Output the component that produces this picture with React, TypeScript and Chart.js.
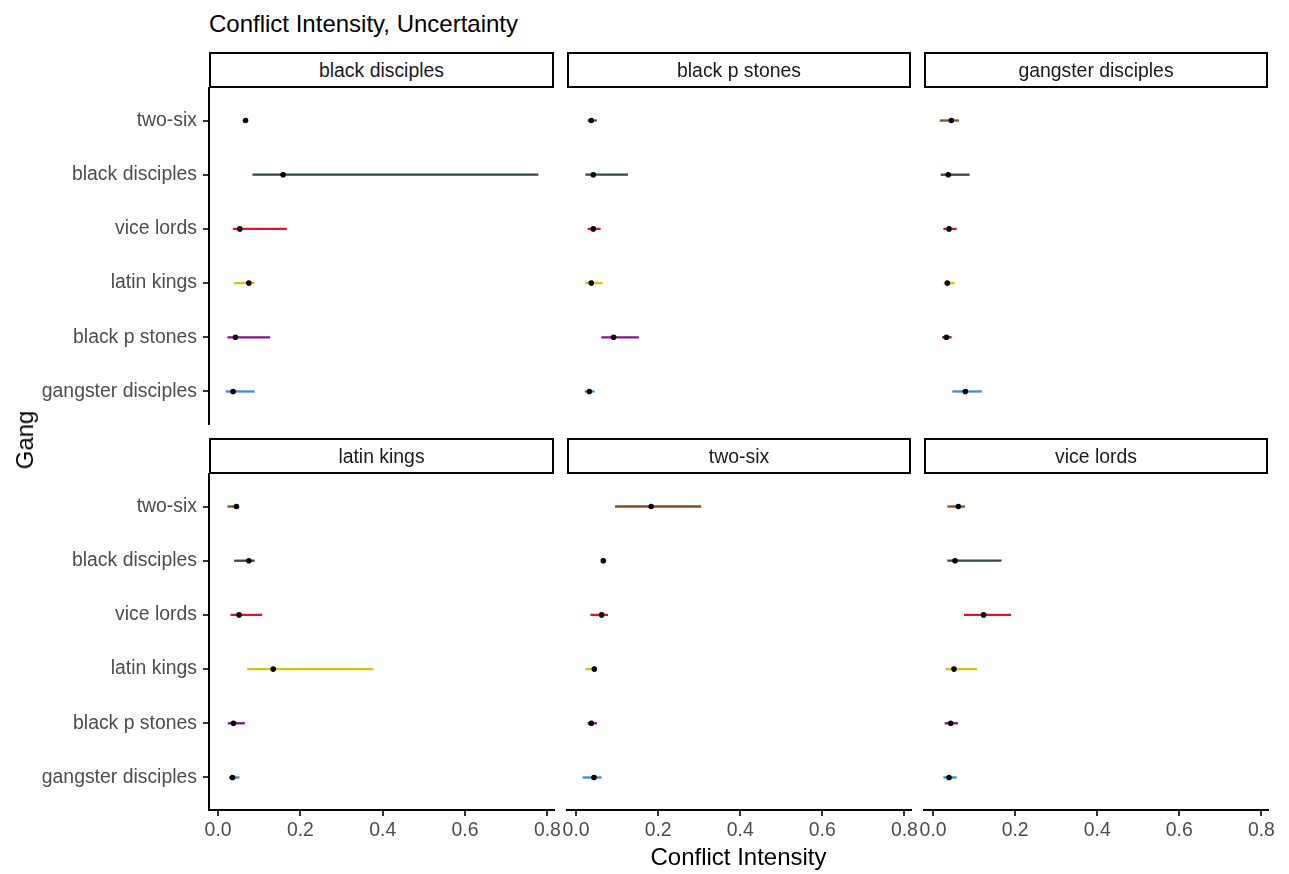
import React, { useEffect, useRef } from 'react';
import { Chart, registerables } from 'chart.js';

Chart.register(...registerables);

// Gang categories, bottom (y=1) to top (y=6)
const GANGS = ['gangster disciples', 'black p stones', 'latin kings', 'vice lords', 'black disciples', 'two-six'];
const GANG_COLORS = ['#3D8BD8', '#86138A', '#CEC712', '#E2112C', '#2F4A46', '#8B4E1A'];
const FACETS = ['black disciples', 'black p stones', 'gangster disciples', 'latin kings', 'two-six', 'vice lords'];
const X_TICKS = [0, 0.2, 0.4, 0.6, 0.8];

// Values per facet, ordered like GANGS
const EST_BLACK_DISCIPLES = [0.0365, 0.0423, 0.0747, 0.0528, 0.158, 0.0666];
const LOW_BLACK_DISCIPLES = [0.0187, 0.0228, 0.039, 0.0357, 0.0836, 0.063];
const HIGH_BLACK_DISCIPLES = [0.0885, 0.1265, 0.0885, 0.167, 0.778, 0.07];

const EST_BLACK_P_STONES = [0.0324, 0.0915, 0.0372, 0.042, 0.042, 0.0372];
const LOW_BLACK_P_STONES = [0.021, 0.0615, 0.0226, 0.0283, 0.0226, 0.0283];
const HIGH_BLACK_P_STONES = [0.045, 0.153, 0.0648, 0.06, 0.1264, 0.051];

const EST_GANGSTER_DISCIPLES = [0.0786, 0.0324, 0.0348, 0.0389, 0.0372, 0.0445];
const LOW_GANGSTER_DISCIPLES = [0.047, 0.0219, 0.0259, 0.0251, 0.0186, 0.0162];
const HIGH_GANGSTER_DISCIPLES = [0.119, 0.0452, 0.0526, 0.0575, 0.0891, 0.0632];

const EST_LATIN_KINGS = [0.035, 0.0374, 0.134, 0.051, 0.0747, 0.0446];
const LOW_LATIN_KINGS = [0.026, 0.0236, 0.0706, 0.03, 0.039, 0.0228];
const HIGH_LATIN_KINGS = [0.052, 0.065, 0.378, 0.107, 0.089, 0.0446];

const EST_TWO_SIX = [0.0437, 0.0372, 0.0445, 0.0623, 0.0664, 0.183];
const LOW_TWO_SIX = [0.016, 0.0283, 0.0226, 0.0348, 0.063, 0.0948];
const HIGH_TWO_SIX = [0.0623, 0.051, 0.0445, 0.0778, 0.07, 0.3047];

const EST_VICE_LORDS = [0.0389, 0.0429, 0.051, 0.1232, 0.0535, 0.0616];
const LOW_VICE_LORDS = [0.0251, 0.0282, 0.0299, 0.0754, 0.0348, 0.0348];
const HIGH_VICE_LORDS = [0.0575, 0.0608, 0.107, 0.19, 0.1669, 0.0778];

const FACET_SERIES = [
  { est: EST_BLACK_DISCIPLES, low: LOW_BLACK_DISCIPLES, high: HIGH_BLACK_DISCIPLES },
  { est: EST_BLACK_P_STONES, low: LOW_BLACK_P_STONES, high: HIGH_BLACK_P_STONES },
  { est: EST_GANGSTER_DISCIPLES, low: LOW_GANGSTER_DISCIPLES, high: HIGH_GANGSTER_DISCIPLES },
  { est: EST_LATIN_KINGS, low: LOW_LATIN_KINGS, high: HIGH_LATIN_KINGS },
  { est: EST_TWO_SIX, low: LOW_TWO_SIX, high: HIGH_TWO_SIX },
  { est: EST_VICE_LORDS, low: LOW_VICE_LORDS, high: HIGH_VICE_LORDS },
];

// shared x range with ggplot-like 5% expansion
const ALL_LOW = Math.min(...FACET_SERIES.map((s) => Math.min(...s.low)));
const ALL_HIGH = Math.max(...FACET_SERIES.map((s) => Math.max(...s.high)));
const X_SPAN = ALL_HIGH - ALL_LOW;
const X_MIN = ALL_LOW - 0.05 * X_SPAN;
const X_MAX = ALL_HIGH + 0.05 * X_SPAN;

const FONT = '"Liberation Sans", Arial, Helvetica, sans-serif';

// layout
const PAD = 24;
const Y_AXIS_W = 189;
const X_AXIS_H = 44;
const COL_LEFT = [209, 567, 924];
const COL_W = [345, 344, 344];
const ROW_TOP = [88, 474];
const PANEL_H = 336;
const STRIP_H = 36;

function Panel({ idx }: { idx: number }) {
  const ref = useRef<HTMLCanvasElement | null>(null);
  const r = Math.floor(idx / 3);
  const c = idx % 3;
  const showY = c === 0;
  const showX = r === 1;
  const axisW = showY ? Y_AXIS_W : 0;
  const axisH = showX ? X_AXIS_H : 0;
  const left = COL_LEFT[c] - axisW - PAD;
  const width = axisW + PAD * 2 + COL_W[c];
  const top = ROW_TOP[r] - PAD;
  const height = PANEL_H + axisH + PAD * 2;

  useEffect(() => {
    if (!ref.current) return;
    const s = FACET_SERIES[idx];
    const datasets: any[] = GANGS.map((g, i) => ({
      label: g,
      data: [
        { x: s.low[i], y: i + 1 },
        { x: s.high[i], y: i + 1 },
      ],
      showLine: true,
      borderColor: GANG_COLORS[i],
      borderWidth: 2.3,
      pointRadius: 0,
      pointHoverRadius: 0,
      order: 1,
    }));
    datasets.push({
      label: 'estimate',
      data: s.est.map((v, i) => ({ x: v, y: i + 1 })),
      pointRadius: 2.8,
      pointBackgroundColor: '#000000',
      pointBorderWidth: 0,
      showLine: false,
      order: 0,
    });

    const chart = new Chart(ref.current, {
      type: 'scatter',
      data: { datasets },
      options: {
        responsive: false,
        animation: false,
        devicePixelRatio: 1,
        layout: { padding: { left: PAD, right: PAD, top: PAD, bottom: PAD } },
        plugins: { legend: { display: false }, tooltip: { enabled: false } },
        events: [],
        scales: {
          x: {
            type: 'linear',
            display: showX,
            min: X_MIN,
            max: X_MAX,
            afterBuildTicks: (scale: any) => {
              scale.ticks = X_TICKS.map((v) => ({ value: v }));
            },
            afterFit: (scale: any) => {
              scale.height = axisH;
            },
            ticks: {
              autoSkip: false,
              maxRotation: 0,
              padding: 3,
              color: '#4D4D4D',
              font: { family: FONT, size: 19.4 },
              callback: (v: any) => Number(v).toFixed(1),
            },
            grid: { drawOnChartArea: false, tickLength: 6, color: '#333333', lineWidth: 2 },
            border: { display: true, color: '#000000', width: 2 },
          },
          y: {
            type: 'linear',
            display: showY,
            min: 0.4,
            max: 6.6,
            afterBuildTicks: (scale: any) => {
              scale.ticks = GANGS.map((g, i) => ({ value: i + 1 }));
            },
            afterFit: (scale: any) => {
              scale.width = axisW;
            },
            ticks: {
              autoSkip: false,
              padding: 6,
              color: '#4D4D4D',
              font: { family: FONT, size: 19.4 },
              callback: (v: any) => GANGS[Math.round(Number(v)) - 1] ?? '',
            },
            grid: { drawOnChartArea: false, tickLength: 6, color: '#333333', lineWidth: 2 },
            border: { display: true, color: '#000000', width: 2 },
          },
        },
      } as any,
    });
    return () => chart.destroy();
  }, [idx]);

  return (
    <>
      <div
        style={{
          position: 'absolute',
          left: COL_LEFT[c],
          top: ROW_TOP[r] - STRIP_H,
          width: COL_W[c],
          height: STRIP_H,
          boxSizing: 'border-box',
          border: '2px solid #000',
          display: 'flex',
          alignItems: 'center',
          justifyContent: 'center',
          fontFamily: FONT,
          fontSize: 19.4,
          color: '#1A1A1A',
        }}
      >
        {FACETS[idx]}
      </div>
      <canvas
        ref={ref}
        width={width}
        height={height}
        style={{ position: 'absolute', left, top, width, height }}
      />
    </>
  );
}

export default function App() {
  return (
    <div
      style={{
        position: 'absolute',
        left: 0,
        top: 0,
        width: 1289,
        height: 874,
        background: '#ffffff',
        overflow: 'hidden',
        fontFamily: FONT,
      }}
    >
      <div
        style={{
          position: 'absolute',
          left: 209,
          top: 12,
          fontSize: 24,
          lineHeight: 1,
          color: '#000',
          whiteSpace: 'nowrap',
        }}
      >
        Conflict Intensity, Uncertainty
      </div>
      {FACETS.map((f, i) => (
        <Panel key={f} idx={i} />
      ))}
      <div
        style={{
          position: 'absolute',
          left: 25,
          top: 440,
          transform: 'translate(-50%, -50%) rotate(-90deg)',
          fontSize: 24,
          lineHeight: 1,
          color: '#000',
          whiteSpace: 'nowrap',
        }}
      >
        Gang
      </div>
      <div
        style={{
          position: 'absolute',
          left: 738.5,
          top: 857,
          transform: 'translate(-50%, -50%)',
          fontSize: 24,
          lineHeight: 1,
          color: '#000',
          whiteSpace: 'nowrap',
        }}
      >
        Conflict Intensity
      </div>
    </div>
  );
}
